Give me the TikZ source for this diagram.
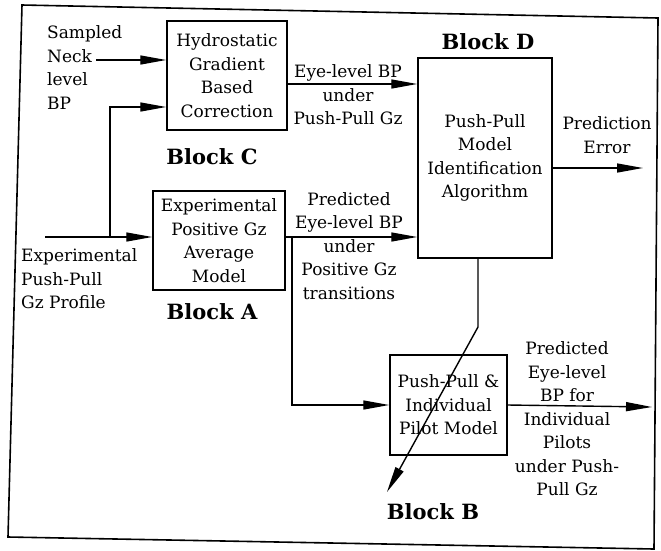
\documentclass[tikz,border=0pt]{standalone}
\usepackage{fontspec}
\setmainfont{DejaVu Serif}
\usetikzlibrary{arrows.meta}
\begin{document}
\begin{tikzpicture}[x=1pt,y=-1pt,
  txt/.style={font=\fontsize{17}{23.5}\selectfont, align=center, inner sep=0pt},
  blk/.style={draw, line width=1.5pt, inner sep=0pt, align=center,
              font=\fontsize{17}{23.5}\selectfont},
  tag/.style={font=\fontsize{21}{24}\selectfont\bfseries, inner sep=0pt},
  arr/.style={line width=1.4pt, -{Triangle[length=26pt,width=9pt]}}]
\useasboundingbox (0,0) rectangle (661,550);

% outer frame (slightly skewed)
\coordinate (fTL) at (22,5);
\coordinate (fTR) at (658,18);
\coordinate (fBR) at (654,549);
\coordinate (fBL) at (8,537);
\draw[line width=1.6pt] (fTL) -- (fTR) -- (fBR) -- (fBL) -- cycle;

% blocks
\node[blk, minimum width=120pt, minimum height=109pt] (C) at (227,75.5)
  {Hydrostatic\\Gradient\\Based\\Correction};
\node[blk, minimum width=132pt, minimum height=99pt] (A) at (219,240.5)
  {Experimental\\Positive Gz\\Average\\Model};
\node[blk, minimum width=134pt, minimum height=200pt] (D) at (485,158)
  {Push-Pull\\Model\\Identification\\Algorithm};
\node[blk, minimum width=117pt, minimum height=100pt] (B) at (448.5,405)
  {Push-Pull \&\\Individual\\Pilot Model};

% block tags
\node[tag] (tagC) at (212,157) {Block C};
\node[tag] (tagA) at (212,312) {Block A};
\node[tag] (tagD) at (488,42) {Block D};
\node[tag] (tagB) at (433,512) {Block B};

% signal labels
\node[txt, align=left, anchor=west] (neck) at (47,67.5) {Sampled\\Neck\\level\\BP};
\node[txt, align=left, anchor=west] (prof) at (21,279) {Experimental\\Push-Pull\\Gz Profile};
\node[txt] (lblCD) at (348,95) {Eye-level BP\\under\\Push-Pull Gz};
\node[txt] (lblAD) at (349,246) {Predicted\\Eye-level BP\\under\\Positive Gz\\transitions};
\node[txt] (lblErr) at (607,135) {Prediction\\Error};
\node[txt] (lblOut) at (567,419) {Predicted\\Eye-level\\BP for\\Individual\\Pilots\\under Push-\\Pull Gz};

% connector points
\coordinate (neckTail) at (96,60);
\coordinate (inTail) at (45,237);
\coordinate (split) at (110,237);
\coordinate (cLow) at (0,107);
\coordinate (cdY) at (0,84);
\coordinate (adY) at (0,237);
\coordinate (fork) at (292,237);
\coordinate (errY) at (0,168);
\coordinate (errHead) at (643,168);
\coordinate (outHead) at (652,407);
\coordinate (bend) at (478,327);
\coordinate (tip) at (387,492);

% connectors
\draw[arr] (neckTail) -- (neckTail -| C.west);
\draw[arr] (inTail) -- (inTail -| A.west);
\draw[arr] (split) |- (cLow -| C.west);
\draw[arr] (C.east |- cdY) -- (D.west |- cdY);
\draw[arr] (A.east |- adY) -- (D.west |- adY);
\draw[arr] (fork) |- (B.west);
\draw[arr] (D.east |- errY) -- (errHead);
\draw[arr] (B.east) -- (outHead);
\draw[arr] (D.south -| bend) -- (bend) -- (tip);
\end{tikzpicture}
\end{document}
